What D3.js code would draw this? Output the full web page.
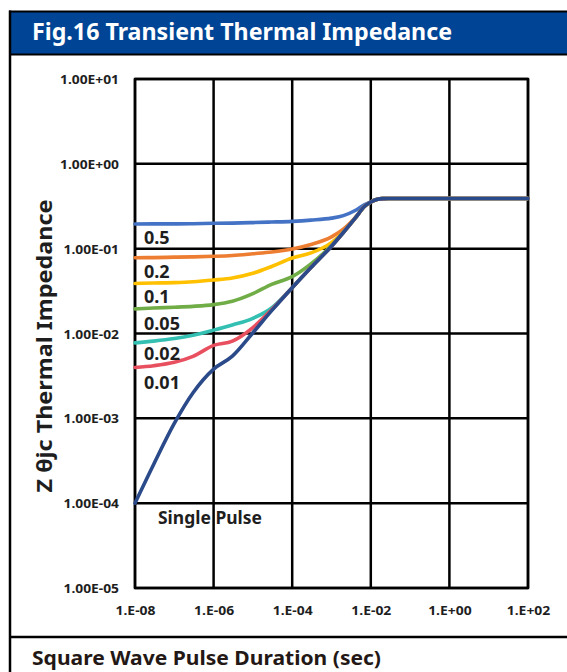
<!DOCTYPE html>
<html><head><meta charset="utf-8">
<script src="https://cdn.jsdelivr.net/npm/d3@7"></script>
<style>body{margin:0;background:#fff} svg{display:block}</style>
</head><body>
<svg id="c" width="567" height="672"></svg>
<script>
// ---------- data ----------
const durations = [1e-8, 3e-8, 1e-7, 3e-7, 1e-6, 3e-6, 1e-5, 3e-5, 1e-4, 3e-4, 1e-3, 2e-3, 4e-3, 7e-3, 1e-2, 1.4e-2, 2e-2, 5e-2, 1e-1, 1, 10, 100];
const singlePulse = [1.0e-4, 2.88e-4, 8.7e-4, 2.0e-3, 3.8e-3, 5.4e-3, 1.02e-2, 1.86e-2, 3.47e-2, 6.0e-2, 0.107, 0.155, 0.229, 0.316, 0.355, 0.380, 0.389, 0.39, 0.39, 0.39, 0.39, 0.39];
const duty05 = [0.195, 0.196, 0.196, 0.197, 0.199, 0.200, 0.203, 0.206, 0.210, 0.217, 0.229, 0.245, 0.282, 0.331, 0.355, 0.380, 0.389, 0.39, 0.39, 0.39, 0.39, 0.39];
const duty02 = [0.0782, 0.0785, 0.0794, 0.0800, 0.0813, 0.0832, 0.0871, 0.0912, 0.0989, 0.112, 0.138, 0.170, 0.232, 0.316, 0.355, 0.380, 0.389, 0.39, 0.39, 0.39, 0.39, 0.39];
const duty01 = [0.0389, 0.0394, 0.0398, 0.0407, 0.0427, 0.0452, 0.0513, 0.0617, 0.0776, 0.0891, 0.118, 0.157, 0.229, 0.316, 0.355, 0.380, 0.389, 0.39, 0.39, 0.39, 0.39, 0.39];
const duty005 = [0.0195, 0.0200, 0.0204, 0.0209, 0.0219, 0.0240, 0.0295, 0.0380, 0.0468, 0.0661, 0.109, 0.155, 0.229, 0.316, 0.355, 0.380, 0.389, 0.39, 0.39, 0.39, 0.39, 0.39];
const duty002 = [0.00776, 0.00813, 0.00871, 0.00955, 0.01096, 0.0126, 0.0151, 0.0200, 0.0347, 6.0e-2, 0.107, 0.155, 0.229, 0.316, 0.355, 0.380, 0.389, 0.39, 0.39, 0.39, 0.39, 0.39];
const duty001 = [0.00398, 0.00417, 0.00457, 0.00537, 0.00724, 0.00813, 0.01175, 0.0191, 0.0347, 6.0e-2, 0.107, 0.155, 0.229, 0.316, 0.355, 0.380, 0.389, 0.39, 0.39, 0.39, 0.39, 0.39];

const seriesNames = ["0.5", "0.2", "0.1", "0.05", "0.02", "0.01", "Single Pulse"];
const seriesValues = [duty05, duty02, duty01, duty005, duty002, duty001, singlePulse];
const seriesColors = ["#4472C4", "#ED7D31", "#FFC000", "#70AD47", "#33C0B2", "#E8505F", "#2B4A8A"];

const xTicks = [1e-8, 1e-6, 1e-4, 1e-2, 1, 100];
const xTickLabels = ["1.E-08", "1.E-06", "1.E-04", "1.E-02", "1.E+00", "1.E+02"];
const yTicks = [10, 1, 0.1, 0.01, 0.001, 1e-4, 1e-5];
const yTickLabels = ["1.00E+01", "1.00E+00", "1.00E-01", "1.00E-02", "1.00E-03", "1.00E-04", "1.00E-05"];

const titleText = "Fig.16 Transient Thermal Impedance";
const yTitleText = "Z θjc Thermal Impedance";
const xTitleText = "Square Wave Pulse Duration (sec)";

// ---------- layout ----------
const W = 567, H = 672;
const P = {left: 135, right: 528, top: 79, bottom: 588};
const FONT = "'Noto Sans', 'Open Sans', sans-serif";
const TXT = "#1e1e1e";
const labelDy = [20, 20.5, 20, 21, 17.5, 21.5];

const svg = d3.select("#c");

// frame
svg.append("rect").attr("x", 10).attr("y", 12).attr("width", W).attr("height", 42).attr("fill", "#004595");
svg.append("line").attr("x1", 9).attr("x2", W).attr("y1", 11.5).attr("y2", 11.5).attr("stroke", "#000").attr("stroke-width", 2);
svg.append("line").attr("x1", 9).attr("x2", W).attr("y1", 54.5).attr("y2", 54.5).attr("stroke", "#000").attr("stroke-width", 2);
svg.append("line").attr("x1", 10).attr("x2", 10).attr("y1", 10.5).attr("y2", H).attr("stroke", "#000").attr("stroke-width", 2.5);
svg.append("line").attr("x1", 9).attr("x2", W).attr("y1", 637).attr("y2", 637).attr("stroke", "#000").attr("stroke-width", 2.5);

function stretch(sel, w) {
  sel.attr("textLength", w).attr("lengthAdjust", "spacingAndGlyphs");
}
// scale a group of labels horizontally so that the reference label gets width w
function stretchGroup(sel, w) {
  const nodes = sel.nodes();
  const k = w / nodes[0].getComputedTextLength();
  sel.each(function () {
    const n = this.getComputedTextLength();
    d3.select(this).attr("textLength", n * k).attr("lengthAdjust", "spacingAndGlyphs");
  });
}

// title
svg.append("text").attr("x", 32).attr("y", 40).attr("fill", "#fff")
  .attr("font-family", FONT).attr("font-weight", 700).attr("font-size", 22.5)
  .text(titleText).call(stretch, 420);

// scales
const x = d3.scaleLog().domain([1e-8, 100]).range([P.left, P.right]);
const y = d3.scaleLog().domain([1e-5, 10]).range([P.bottom, P.top]);

// grid
const grid = svg.append("g");
grid.selectAll("line.v").data(xTicks).join("line")
  .attr("x1", d => x(d)).attr("x2", d => x(d)).attr("y1", P.top).attr("y2", P.bottom)
  .attr("stroke", "#000").attr("stroke-width", 2.5);
grid.selectAll("line.h").data(yTicks).join("line")
  .attr("y1", d => y(d)).attr("y2", d => y(d)).attr("x1", P.left).attr("x2", P.right)
  .attr("stroke", "#000").attr("stroke-width", 2.5);
grid.append("rect").attr("x", P.left).attr("y", P.top).attr("width", P.right - P.left).attr("height", P.bottom - P.top)
  .attr("fill", "none").attr("stroke", "#000").attr("stroke-width", 2.5);

// axes labels via d3 axes
const xAxis = d3.axisBottom(x).tickValues(xTicks).tickSize(0).tickPadding(0)
  .tickFormat((d, i) => xTickLabels[i]);
const gx = svg.append("g").attr("transform", `translate(0,${P.bottom})`).call(xAxis);
gx.select(".domain").remove();
gx.selectAll("text").attr("y", 27).attr("dy", 0).attr("fill", TXT)
  .attr("font-family", FONT).attr("font-weight", 700).attr("font-size", 13)
  .call(stretchGroup, 40);

const yAxis = d3.axisLeft(y).tickValues(yTicks).tickSize(0).tickPadding(0)
  .tickFormat((d, i) => yTickLabels[i]);
const gy = svg.append("g").attr("transform", `translate(${P.left},0)`).call(yAxis);
gy.select(".domain").remove();
gy.selectAll("text").attr("x", -16).attr("dy", 4.5).attr("fill", TXT)
  .attr("font-family", FONT).attr("font-weight", 700).attr("font-size", 13)
  .call(stretchGroup, 59);

// curves
const line = d3.line().x(d => x(d[0])).y(d => y(d[1])).curve(d3.curveMonotoneX);
const curves = svg.append("g").attr("fill", "none").attr("stroke-width", 3.6).attr("stroke-linecap", "round").attr("stroke-linejoin", "round");
seriesValues.forEach((vals, i) => {
  curves.append("path").datum(durations.map((t, k) => [t, vals[k]]))
    .attr("d", line).attr("stroke", seriesColors[i]);
});

// duty labels
const labels = svg.append("g").attr("font-family", FONT).attr("font-weight", 700).attr("fill", TXT);
seriesNames.slice(0, 6).forEach((name, i) => {
  labels.append("text").attr("x", 144).attr("y", y(seriesValues[i][0]) + labelDy[i])
    .attr("font-size", 18).text(name);
});
labels.append("text").attr("x", 158).attr("y", 524).attr("font-size", 18)
  .text(seriesNames[6]).call(stretch, 104);

// axis titles
svg.append("text").attr("transform", "translate(51.5,346) rotate(-90)").attr("text-anchor", "middle")
  .attr("font-family", FONT).attr("font-weight", 700).attr("font-size", 22).attr("fill", TXT)
  .text(yTitleText).call(stretch, 293);
svg.append("text").attr("x", 32).attr("y", 665).attr("font-family", FONT).attr("font-weight", 700)
  .attr("font-size", 20).attr("fill", "#231815").text(xTitleText).call(stretch, 349);
</script>
</body></html>
